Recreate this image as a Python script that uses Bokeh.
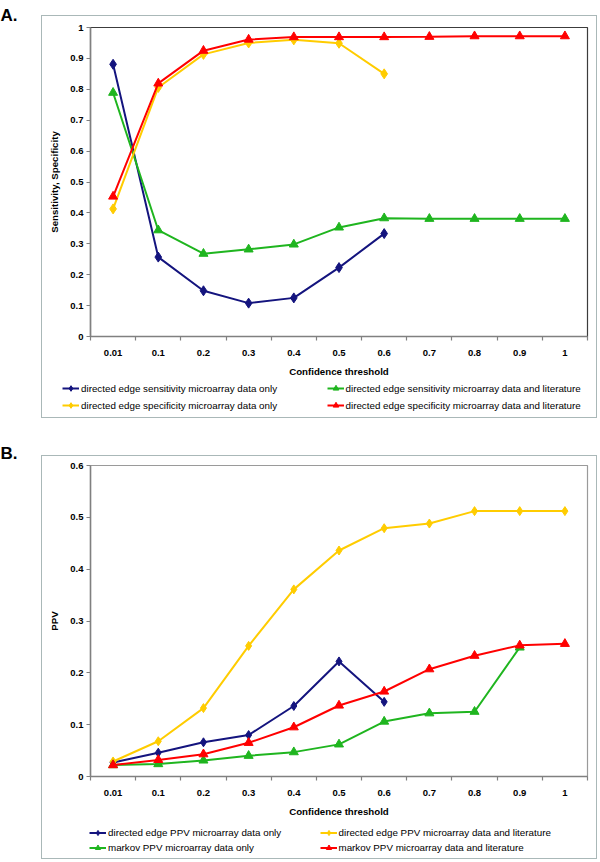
from bokeh.plotting import figure
from bokeh.models import (Range1d, FixedTicker, NumeralTickFormatter, Legend, LegendItem,
                          InlineStyleSheet)
from bokeh.layouts import column
from bokeh.embed import file_html
from bokeh.resources import INLINE

# ---------------- data ----------------
thresholds = ["0.01", "0.1", "0.2", "0.3", "0.4", "0.5", "0.6", "0.7", "0.8", "0.9", "1"]

# Panel A: sensitivity / specificity
sens_micro = [0.881, 0.257, 0.148, 0.108, 0.125, 0.223, 0.333]
sens_lit = [0.789, 0.344, 0.268, 0.282, 0.298, 0.353, 0.383, 0.381, 0.381, 0.381, 0.381]
spec_micro = [0.413, 0.806, 0.913, 0.950, 0.960, 0.949, 0.850]
spec_lit = [0.453, 0.819, 0.925, 0.961, 0.969, 0.969, 0.969, 0.970, 0.972, 0.972, 0.972]
yticks_A = [0, 0.1, 0.2, 0.3, 0.4, 0.5, 0.6, 0.7, 0.8, 0.9, 1.0]

# Panel B: PPV
ppv_edge_micro = [0.027, 0.046, 0.066, 0.080, 0.136, 0.222, 0.144]
ppv_edge_lit = [0.029, 0.068, 0.132, 0.252, 0.361, 0.436, 0.479, 0.488, 0.512, 0.512, 0.512]
ppv_markov_micro = [0.022, 0.024, 0.031, 0.040, 0.047, 0.062, 0.106, 0.122, 0.125, 0.249]
ppv_markov_lit = [0.022, 0.032, 0.043, 0.065, 0.095, 0.137, 0.164, 0.207, 0.233, 0.253, 0.256]
yticks_B = [0, 0.1, 0.2, 0.3, 0.4, 0.5, 0.6]

labels_A = ["directed edge sensitivity microarray data only",
            "directed edge specificity microarray data only",
            "directed edge sensitivity microarray data and literature",
            "directed edge specificity microarray data and literature"]
labels_B = ["directed edge PPV microarray data only",
            "markov PPV microarray data only",
            "directed edge PPV microarray data and literature",
            "markov PPV microarray data and literature"]

NAVY = "#14147e"
GREEN = "#1fb51f"
YELLOW = "#ffcc00"
RED = "#ff0000"
FONT = "Liberation Sans"
W = 600


def box_css(left, top, width, height):
    return InlineStyleSheet(css=(
        ":host::after { content: ''; position: absolute; "
        f"left: {left}px; top: {top}px; width: {width}px; height: {height}px; "
        "border: 1.5px solid #aab8b8; box-sizing: border-box; pointer-events: none; }"))


def make_panel(height, top, bottom, ymax, yticks, ylabel, outline, tag):
    p = figure(width=W, height=height, output_backend="svg", toolbar_location=None,
               x_range=Range1d(-0.5, len(thresholds) - 0.5), y_range=Range1d(0, ymax),
               min_border_left=90, min_border_right=13,
               min_border_top=top, min_border_bottom=bottom)
    p.grid.visible = False
    p.outline_line_color = outline
    p.outline_line_width = 1.2
    p.background_fill_alpha = 0
    p.border_fill_alpha = 0

    p.title.text = tag
    p.title.align = "left"
    p.title.offset = -90
    p.title.standoff = 5
    p.title.text_font = FONT
    p.title.text_font_style = "bold"
    p.title.text_font_size = "17px"
    p.title.text_color = "#000000"

    xa = p.xaxis[0]
    xa.ticker = FixedTicker(ticks=list(range(len(thresholds))),
                            minor_ticks=[i - 0.5 for i in range(len(thresholds) + 1)])
    xa.major_label_overrides = {i: t for i, t in enumerate(thresholds)}
    xa.major_tick_line_color = None
    xa.major_tick_out = 0
    xa.major_tick_in = 0
    xa.minor_tick_out = 4
    xa.minor_tick_in = 0
    xa.minor_tick_line_color = "#808080"
    xa.minor_tick_line_width = 1.2
    xa.axis_line_color = "#808080"
    xa.axis_line_width = 1.5
    xa.major_label_standoff = 9
    xa.axis_label = "Confidence threshold"
    xa.axis_label_standoff = 7

    ya = p.yaxis[0]
    ya.ticker = FixedTicker(ticks=yticks, minor_ticks=[])
    ya.formatter = NumeralTickFormatter(format="0.[0]")
    ya.major_tick_out = 4
    ya.major_tick_in = 0
    ya.major_tick_line_color = "#808080"
    ya.major_tick_line_width = 1.2
    ya.axis_line_color = "#808080"
    ya.axis_line_width = 1.5
    ya.major_label_standoff = 3
    ya.axis_label = ylabel
    ya.axis_label_standoff = 7

    for ax in (xa, ya):
        ax.major_label_text_font = FONT
        ax.major_label_text_font_style = "bold"
        ax.major_label_text_font_size = "9.5px"
        ax.major_label_text_color = "#000000"
        ax.axis_label_text_font = FONT
        ax.axis_label_text_font_style = "bold"
        ax.axis_label_text_font_size = "9.7px"
        ax.axis_label_text_color = "#000000"
    return p


def series(p, vals, color, marker, size):
    xs = list(range(len(vals)))
    p.line(xs, vals, line_color=color, line_width=2)
    p.scatter(xs, vals, marker=marker, size=size, fill_color=color, line_color=color)


def legend_fig(height, specs, labels, cols_x, vy, row_h, spacing):
    """A frame-only figure that carries the legend; its glyph renderers lie outside its ranges."""
    f = figure(width=W, height=height, output_backend="svg", toolbar_location=None,
               x_axis_type=None, y_axis_type=None,
               x_range=Range1d(0, 1), y_range=Range1d(0, 1),
               min_border_left=0, min_border_right=0, min_border_top=0, min_border_bottom=0)
    f.frame_align = False
    f.grid.visible = False
    f.outline_line_color = None
    f.background_fill_alpha = 0
    f.border_fill_alpha = 0
    items = []
    for (color, marker, size), lab in zip(specs, labels):
        l = f.line(x=[5, 6], y=[5, 6], line_color=color, line_width=2)
        s = f.scatter(x=[5], y=[5], marker=marker, size=size, fill_color=color, line_color=color)
        items.append(LegendItem(label=lab, renderers=[l, s]))
    for c, vx in enumerate(cols_x):
        lg = Legend(items=items[2 * c:2 * c + 2], location=(vx, vy), orientation="vertical",
                    padding=0, margin=0, spacing=spacing, glyph_width=17, glyph_height=row_h,
                    label_height=row_h, label_standoff=2,
                    label_text_font=FONT, label_text_font_size="9.8px",
                    label_text_color="#000000",
                    border_line_color=None, background_fill_alpha=0)
        f.add_layout(lg)
    return f


# ---------------- Panel A ----------------
pA = make_panel(379, 27, 42, 1.0, yticks_A, "Sensitivity, Specificity", "#3c3c3c", "A.")
series(pA, sens_micro, NAVY, "diamond", 10)
series(pA, sens_lit, GREEN, "triangle", 9)
series(pA, spec_micro, YELLOW, "diamond", 10)
series(pA, spec_lit, RED, "triangle", 9)
lA = legend_fig(53, [(NAVY, "diamond", 9), (YELLOW, "diamond", 9),
                     (GREEN, "triangle", 9), (RED, "triangle", 9)],
                labels_A, [62, 326.5], 19.7, 14, 3)
panelA = column(pA, lA, spacing=0, stylesheets=[box_css(40.5, 14.5, 556.5, 403.5)])

# ---------------- Panel B ----------------
pB = make_panel(387, 33, 42, 0.6, yticks_B, "PPV", "#9a9a9a", "B.")
series(pB, ppv_edge_micro, NAVY, "diamond", 9)
series(pB, ppv_edge_lit, YELLOW, "diamond", 9)
series(pB, ppv_markov_micro, GREEN, "triangle", 9)
series(pB, ppv_markov_lit, RED, "triangle", 9)
lB = legend_fig(41, [(NAVY, "diamond", 8), (GREEN, "triangle", 9),
                     (YELLOW, "diamond", 8), (RED, "triangle", 9)],
                labels_B, [89, 319.5], 6.2, 13, 2)
panelB = column(pB, lB, spacing=0, stylesheets=[box_css(40.5, 23, 556.5, 403.7)])

layout = column(panelA, panelB, spacing=0)
open("out.html", "w").write(file_html(layout, INLINE))
